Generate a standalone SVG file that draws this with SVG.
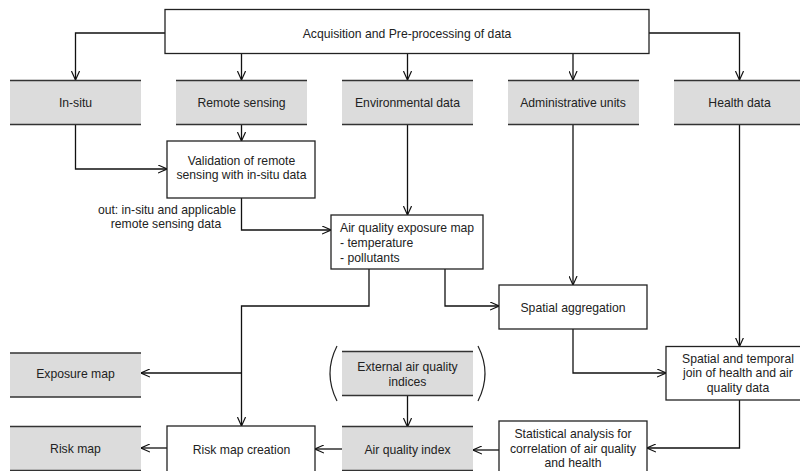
<svg xmlns="http://www.w3.org/2000/svg" width="800" height="471" viewBox="0 0 800 471">
  <style>
    text { font-family: "Liberation Sans", Arial, sans-serif; font-size: 12.2px; fill: #222; }
    .c { text-anchor: middle; }
    .box { fill: #fff; stroke: #222; stroke-width: 1.3; }
    .gfill { fill: #dcdcdc; }
    .gedge { stroke: #333; stroke-width: 1.5; fill: none; }
    .conn { fill: none; stroke: #111; stroke-width: 1.3; marker-end: url(#vee); }
    .paren { fill: none; stroke: #222; stroke-width: 1.2; }
  </style>
  <defs>
    <marker id="vee" viewBox="0 0 10 10" refX="10" refY="5" markerWidth="9" markerHeight="9" markerUnits="userSpaceOnUse" orient="auto">
      <path d="M0,0.5 L10,5 L0,9.5" fill="none" stroke="#111" stroke-width="1.3"/>
    </marker>
    <!-- grey data box: fill with top and bottom rule only -->
    <g id="gbox">
      <rect class="gfill" x="0" y="0" width="131" height="44"/>
      <path class="gedge" d="M0,0 H131 M0,44 H131"/>
    </g>
  </defs>
  <rect width="800" height="471" fill="#fff"/>

  <g id="connectors">
    <path class="conn" d="M165,33 H75.5 V80"/>
    <path class="conn" d="M241.5,53.5 V80"/>
    <path class="conn" d="M407.5,53.5 V80"/>
    <path class="conn" d="M573,53.5 V80"/>
    <path class="conn" d="M649,33 H739.5 V80"/>
    <path class="conn" d="M75.5,124 V169 H167"/>
    <path class="conn" d="M241.5,124 V141"/>
    <path class="conn" d="M241.5,198 V230 H331"/>
    <path class="conn" d="M407.5,124 V215"/>
    <path class="conn" d="M573,124 V285"/>
    <path class="conn" d="M445,269 V306 H499"/>
    <path class="conn" d="M369,269 V306 H241.5 V426"/>
    <path class="conn" d="M241.5,373 H141"/>
    <path class="conn" d="M739.5,124 V346.5"/>
    <path class="conn" d="M573,329 V373 H666"/>
    <path class="conn" d="M739.5,400 V448 H647"/>
    <path class="conn" d="M499,450 H473"/>
    <path class="conn" d="M407.5,396 V427"/>
    <path class="conn" d="M342,449 H315"/>
    <path class="conn" d="M167,448 H141"/>
  </g>

  <g id="acquisition">
    <rect class="box" x="165" y="9.5" width="484" height="44"/>
    <text class="c" x="407" y="37.5">Acquisition and Pre-processing of data</text>
  </g>

  <g id="in-situ">
    <use href="#gbox" x="10" y="80.5"/>
    <text class="c" x="75.5" y="107">In-situ</text>
  </g>
  <g id="remote-sensing">
    <use href="#gbox" x="176" y="80.5"/>
    <text class="c" x="241.5" y="107">Remote sensing</text>
  </g>
  <g id="environmental-data">
    <use href="#gbox" x="342" y="80.5"/>
    <text class="c" x="407.5" y="107">Environmental data</text>
  </g>
  <g id="administrative-units">
    <use href="#gbox" x="508" y="80.5"/>
    <text class="c" x="573" y="107">Administrative units</text>
  </g>
  <g id="health-data">
    <use href="#gbox" x="674" y="80.5"/>
    <text class="c" x="739.5" y="107">Health data</text>
  </g>

  <g id="validation">
    <rect class="box" x="167" y="141" width="148" height="57"/>
    <text class="c" x="241.5" y="164.5">Validation of remote</text>
    <text class="c" x="241.5" y="178.5">sensing with in-situ data</text>
  </g>
  <g id="validation-output-label">
    <text class="c" x="167" y="213.5">out: in-situ and applicable</text>
    <text class="c" x="166" y="227.5">remote sensing data</text>
  </g>

  <g id="exposure-model">
    <rect class="box" x="331" y="215" width="152" height="54"/>
    <text x="340" y="232">Air quality exposure map</text>
    <text x="340" y="247">- temperature</text>
    <text x="340" y="261.5">- pollutants</text>
  </g>

  <g id="spatial-aggregation">
    <rect class="box" x="499" y="285" width="148" height="44"/>
    <text class="c" x="573" y="312">Spatial aggregation</text>
  </g>

  <g id="spatial-temporal-join">
    <rect class="box" x="666" y="346.5" width="148" height="53.5"/>
    <text class="c" x="738" y="362.5">Spatial and temporal</text>
    <text class="c" x="738" y="377">join of health and air</text>
    <text class="c" x="738" y="391.5">quality data</text>
  </g>

  <g id="exposure-map">
    <use href="#gbox" x="10" y="353"/>
    <text class="c" x="75.5" y="377.5">Exposure map</text>
  </g>

  <g id="external-indices">
    <use href="#gbox" x="342" y="351.5"/>
    <text class="c" x="407.5" y="371">External air quality</text>
    <text class="c" x="407.5" y="385.5">indices</text>
    <path class="paren" d="M337,346 Q323,373.5 337,401"/>
    <path class="paren" d="M478,346 Q492,373.5 478,401"/>
  </g>

  <g id="risk-map">
    <use href="#gbox" x="10" y="426.5"/>
    <text class="c" x="75.5" y="453">Risk map</text>
  </g>

  <g id="risk-map-creation">
    <rect class="box" x="167" y="426" width="148" height="50"/>
    <text class="c" x="241.5" y="453.5">Risk map creation</text>
  </g>

  <g id="air-quality-index">
    <use href="#gbox" x="342" y="426.5"/>
    <text class="c" x="407.5" y="453.5">Air quality index</text>
  </g>

  <g id="statistical-analysis">
    <rect class="box" x="499" y="421" width="148" height="55"/>
    <text class="c" x="573" y="437.5">Statistical analysis for</text>
    <text class="c" x="573" y="452.5">correlation of air quality</text>
    <text class="c" x="573" y="466.5">and health</text>
  </g>
</svg>
